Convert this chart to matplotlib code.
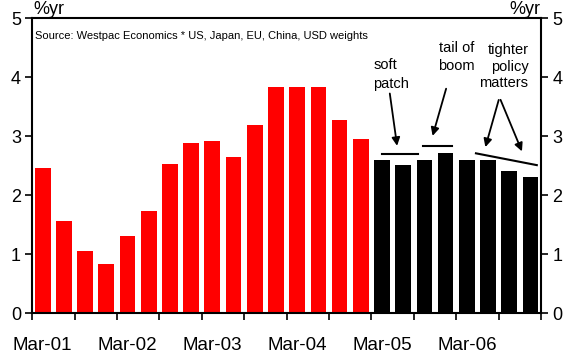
import numpy as np
import matplotlib.pyplot as plt

plt.rcParams['font.family'] = ['Liberation Sans', 'DejaVu Sans']

# quarterly growth, %yr (Mar-01 .. Dec-06)
actual = [2.46, 1.56, 1.06, 0.84, 1.31, 1.74, 2.53, 2.89,
          2.92, 2.65, 3.19, 3.84, 3.84, 3.84, 3.27, 2.95]
forecast = [2.60, 2.52, 2.60, 2.71, 2.60, 2.60, 2.41, 2.31]
year_labels = ['Mar-01', 'Mar-02', 'Mar-03', 'Mar-04', 'Mar-05', 'Mar-06']

x_act = np.arange(len(actual))
x_fc = np.arange(len(actual), len(actual) + len(forecast))

fig = plt.figure(figsize=(5.63, 3.56), dpi=100)
ax = fig.add_axes([0.057, 0.12, 0.904, 0.829])

ax.bar(x_act, actual, width=0.74, color='#ff0000')
ax.bar(x_fc, forecast, width=0.74, color='black')

n = len(actual) + len(forecast)
ax.set_xlim(-0.5, n - 0.5)
ax.set_ylim(0, 5)

ax.set_xticks(np.arange(-0.5, n, 2))
ax.set_xticklabels([])
ax.set_xticks(np.arange(0, n, 4), minor=True)
ax.set_xticklabels(year_labels, minor=True)
ax.tick_params(axis='x', which='major', direction='out', length=5, width=1.2)
ax.tick_params(axis='x', which='minor', length=0, pad=17, labelsize=13.5)

ax.set_yticks(range(6))
ax.tick_params(axis='y', direction='out', length=5, width=1.2, labelsize=13,
               right=True, labelright=True, pad=3)

for s in ax.spines.values():
    s.set_linewidth(1.5)

ax.text(0.002, 1.0, '%yr', transform=ax.transAxes, fontsize=13,
        ha='left', va='bottom')
ax.text(0.998, 1.0, '%yr', transform=ax.transAxes, fontsize=13,
        ha='right', va='bottom')
ax.text(0.006, 0.955, 'Source: Westpac Economics * US, Japan, EU, China, USD weights',
        transform=ax.transAxes, fontsize=8, ha='left', va='top')

# annotations
lw = 1.5
ax.plot([16.0, 17.7], [2.70, 2.70], color='black', lw=lw)
ax.plot([17.93, 19.3], [2.84, 2.84], color='black', lw=lw)
ax.plot([20.43, 23.3], [2.71, 2.51], color='black', lw=lw)

ap = dict(arrowstyle='-|>', color='black', lw=1.3, mutation_scale=12)
ax.annotate('', xy=(16.73, 2.79), xytext=(16.35, 3.77), arrowprops=ap)
ax.annotate('', xy=(18.35, 2.96), xytext=(19.06, 3.85), arrowprops=ap)
ax.annotate('', xy=(20.84, 2.77), xytext=(21.54, 3.66), arrowprops=ap)
ax.annotate('', xy=(22.65, 2.70), xytext=(21.54, 3.66), arrowprops=ap)

ax.text(15.6, 4.32, 'soft\npatch', fontsize=10.5, ha='left', va='top',
        linespacing=1.4)
ax.text(19.5, 4.62, 'tail of\nboom', fontsize=10.5, ha='center', va='top',
        linespacing=1.4)
ax.text(22.9, 4.58, 'tighter\npolicy\nmatters', fontsize=10.5, ha='right',
        va='top', linespacing=1.25, multialignment='right')

fig.savefig('out.png', dpi=100)
